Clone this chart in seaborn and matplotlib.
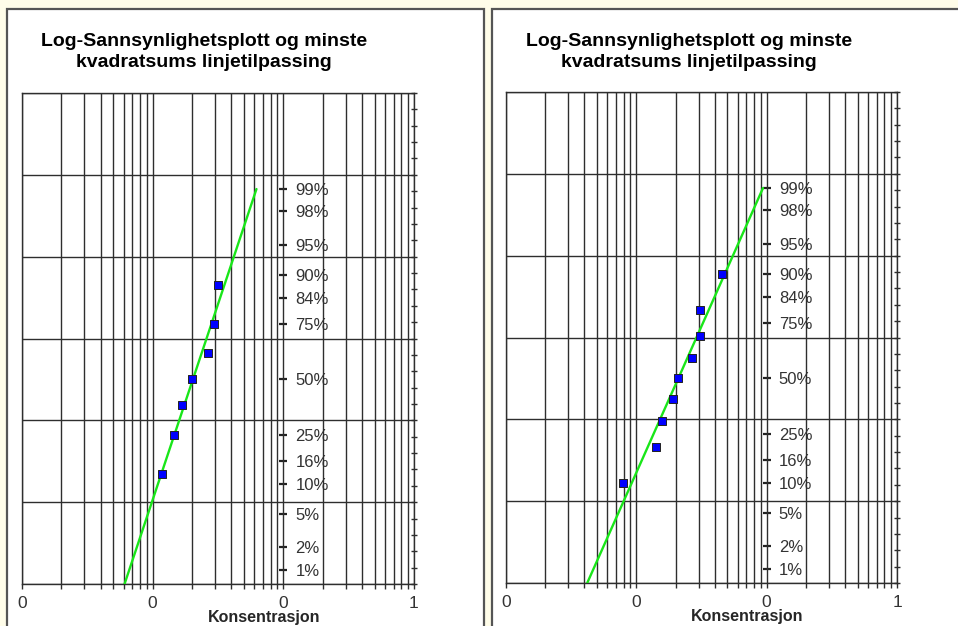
import seaborn as sns
import numpy as np
from statistics import NormalDist
from matplotlib import pyplot as plt
from matplotlib.patches import Rectangle
from matplotlib import ticker

# concentrations and plotting positions i/(n+1)
left_conc = [0.0118, 0.0146, 0.0168, 0.0200, 0.0265, 0.0294, 0.0316]
left_prob = [0.125, 0.25, 0.375, 0.50, 0.625, 0.75, 0.875]
right_conc = [0.0079, 0.0141, 0.0157, 0.0191, 0.0208, 0.0266, 0.0307, 0.0307, 0.0452]
right_prob = [0.10, 0.20, 0.30, 0.40, 0.50, 0.60, 0.70, 0.80, 0.90]

pct_values = [0.99, 0.98, 0.95, 0.90, 0.84, 0.75, 0.50, 0.25, 0.16, 0.10, 0.05, 0.02, 0.01]
pct_labels = ["99%", "98%", "95%", "90%", "84%", "75%", "50%", "25%", "16%", "10%", "5%", "2%", "1%"]
x_ticks = [0.001, 0.01, 0.1, 1]
x_ticklabels = ["0", "0", "0", "1"]

TITLE = "Log-Sannsynlighetsplott og minste\nkvadratsums linjetilpassing"
XLABEL = "Konsentrasjon"

W, H = 958, 626
nd = NormalDist()

sns.set_style("white")
plt.rcParams['font.family'] = ['Liberation Sans', 'DejaVu Sans']

fig = plt.figure(figsize=(W / 100, H / 100), dpi=100)
fig.patch.set_facecolor('#fffde9')

GRID = '#2e2e2e'


def px_box(x0, y0, x1, y1):
    # pixel box (top-left origin) -> figure fraction [left, bottom, width, height]
    return [x0 / W, 1 - y1 / H, (x1 - x0) / W, (y1 - y0) / H]


def panel(frame_x0, frame_x1, ax_box, conc, prob):
    l, b, w, h = px_box(frame_x0, 9, frame_x1, 660)
    fig.patches.append(Rectangle((l, b), w, h, transform=fig.transFigure,
                                 facecolor='white', edgecolor='#555555', lw=1.6, zorder=-1))
    fig.text((frame_x0 + 197) / W, 1 - 52 / H, TITLE, ha='center', va='center',
             fontsize=14, fontweight='bold', linespacing=1.25, color='black')

    ax = fig.add_axes(px_box(*ax_box))
    ax.set_xscale('log')
    ax.set_xlim(0.001, 1)
    ax.set_ylim(-2.5, 3.5)

    z = [nd.inv_cdf(p) for p in prob]
    logx = np.log10(conc)
    slope, icpt = np.polyfit(logx, z, 1)
    z_line = np.array([-3.5, nd.inv_cdf(0.99)])
    x_line = 10 ** ((z_line - icpt) / slope)
    sns.lineplot(x=x_line, y=z_line, ax=ax, color='#19e619', lw=1.7, sort=False, zorder=3)
    sns.scatterplot(x=conc, y=z, ax=ax, marker='s', s=34, color='#0000ff',
                    edgecolor='#222222', linewidth=0.7, zorder=4)

    # grid
    ax.yaxis.set_major_locator(ticker.FixedLocator(np.arange(-2.5, 3.6, 1.0)))
    ax.yaxis.set_minor_locator(ticker.FixedLocator(np.arange(-2.5, 3.6, 0.2)))
    ax.grid(True, which='major', axis='y', color=GRID, lw=1.0)
    ax.grid(True, which='both', axis='x', color=GRID, lw=1.0)
    ax.set_axisbelow(True)
    for s in ax.spines.values():
        s.set_color(GRID)
        s.set_linewidth(1.0)

    ax.set_xticks(x_ticks, labels=x_ticklabels)
    ax.xaxis.set_minor_formatter(ticker.NullFormatter())
    ax.tick_params(axis='x', which='both', direction='out', length=3.5, width=1.0,
                   color=GRID, labelsize=12.5, labelcolor='#333333', pad=5, bottom=True)
    ax.tick_params(axis='y', which='both', left=False, right=True, labelleft=False,
                   direction='inout', length=5, width=1.0, color=GRID)
    ax.set_xlabel(XLABEL, fontsize=11.5, fontweight='bold')
    ax.xaxis.set_label_coords(0.617, -0.053)
    ax.set_ylabel('')

    # probability scale drawn on the 0.1 line
    sec = ax.secondary_yaxis(2 / 3)
    sec.set_yticks([nd.inv_cdf(p) for p in pct_values], labels=pct_labels)
    for s in sec.spines.values():
        s.set_visible(False)
    sec.tick_params(direction='inout', length=5.5, width=1.6, color='#222222',
                    labelsize=12, labelcolor='#333333', pad=6)
    return ax


panel(7, 484, (22, 93, 414, 584), left_conc, left_prob)
panel(492, 975, (506, 92, 897, 583), right_conc, right_prob)

fig.savefig('out.png', dpi=100, facecolor=fig.get_facecolor())
